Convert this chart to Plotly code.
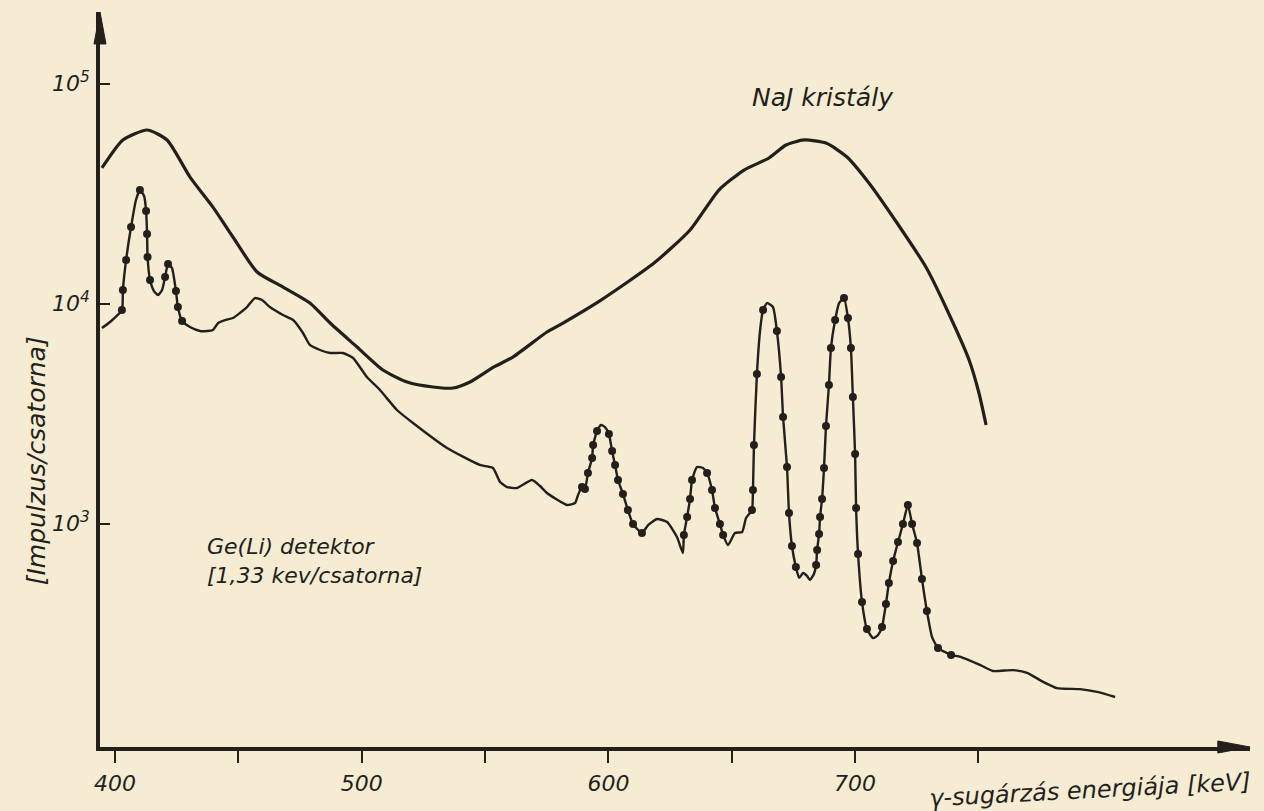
import plotly.graph_objects as go

# ---- data ----
# NaJ crystal spectrum (smooth upper curve)
naj_kev = [394.7, 403.2, 413.0, 421.1, 430.4, 439.7, 447.8, 457.6, 468.1, 479.0,
           487.2, 498.1, 508.6, 518.4, 528.9, 537.0, 543.9, 553.6, 561.3, 575.1,
           581.6, 597.0, 618.5, 633.1, 644.8, 655.0, 665.1, 672.0, 679.3, 688.2,
           696.7, 705.6, 717.0, 728.7, 737.3, 746.2, 750.2, 753.1]
naj_counts = [41400, 55500, 61600, 55500, 37650, 27500, 20100, 13940, 11900, 10070,
              8170, 6357, 4995, 4407, 4182, 4139, 4407, 5157, 5724, 7436,
              8170, 10390, 15310, 21630, 32870, 40520, 45950, 52650, 55500, 53760,
              46440, 35380, 23270, 14680, 9363, 5548, 3928, 2809]

# Ge(Li) detector spectrum (lower curve)
ge_kev = [394.7, 398.0, 402.8, 403.2, 404.5, 406.5, 408.5, 410.1, 411.8, 412.6,
          413.0, 413.2, 414.2, 415.8, 417.4, 419.1, 420.3, 421.5, 423.1, 424.7,
          425.5, 427.2, 430.4, 434.5, 437.3, 439.7, 441.8, 444.6, 447.8, 453.5,
          456.7, 459.6, 462.8, 468.1, 472.2, 476.2, 479.0, 483.1, 487.2, 492.4,
          496.5, 502.1, 507.4, 514.3, 520.8, 534.6, 547.9, 553.2, 556.1, 558.9,
          563.0, 569.0, 572.3, 575.1, 583.2, 586.5, 587.7, 589.3, 590.5, 591.7,
          593.4, 593.8, 595.4, 597.0, 598.6, 600.2, 601.5, 602.7, 603.9, 605.9,
          607.9, 610.0, 613.6, 616.1, 619.7, 623.8, 627.8, 630.2, 630.6, 631.9,
          633.1, 633.9, 635.9, 638.3, 640.0, 642.0, 643.2, 645.2, 646.5, 648.5,
          651.3, 654.2, 655.8, 658.2, 658.6, 659.0, 660.2, 661.5, 662.7, 664.3,
          666.7, 668.3, 670.0, 670.8, 672.4, 673.2, 674.4, 676.0, 677.3, 678.9,
          680.5, 681.7, 683.3, 684.2, 684.6, 685.4, 685.8, 686.6, 687.4, 688.2,
          689.4, 690.2, 691.9, 693.5, 695.5, 697.1, 698.3, 699.1, 700.0, 700.4,
          701.2, 702.8, 704.8, 707.3, 709.3, 710.9, 712.5, 713.7, 715.4, 717.4,
          719.4, 721.4, 723.1, 725.1, 727.1, 729.1, 731.2, 733.6, 736.4, 738.9,
          742.7, 750.6, 755.9, 764.0, 769.7, 776.2, 781.8, 791.2, 798.1, 805.4]
ge_counts = [7750, 8260, 9360, 11540, 15800, 22310, 29600, 32870, 30870, 26390,
             20740, 16310, 12810, 11420, 10950, 11540, 13230, 15150, 14530, 11420,
             9660, 8345, 7837, 7515, 7515, 7594, 8170, 8431, 8610, 9660,
             10610, 10390, 9660, 8883, 8431, 7360, 6494, 6160, 5969, 5969,
             5665, 4644, 4052, 3287, 2869, 2209, 1849, 1792, 1547, 1468,
             1453, 1580, 1484, 1379, 1216, 1242, 1351, 1468, 1438, 1700,
             1989, 2279, 2639, 2809, 2751, 2557, 2141, 1849, 1580, 1365,
             1154, 997, 907, 986, 1050, 1018, 870, 736, 888, 1073,
             1295, 1580, 1810, 1792, 1700, 1423, 1179, 997, 888, 800,
             907, 917, 1061, 1154, 1423, 2279, 4792, 7594, 9363, 10070,
             9660, 7515, 4644, 3055, 1810, 1118, 792, 636, 567, 597,
             579, 555, 591, 649, 760, 898, 1073, 1295, 1792, 2781,
             4271, 6288, 8431, 10070, 10610, 8610, 6288, 3765, 2074, 1179,
             728, 441, 332, 302, 312, 339, 432, 538, 677, 826,
             997, 1216, 997, 817, 561, 401, 305, 272, 261, 253,
             248, 228, 214, 216, 210, 191, 179, 177, 172, 163]
# indices of the Ge(Li) points drawn as measured dots
ge_dot_index = [2, 3, 4, 5, 7, 9, 10, 11, 12, 16, 17, 19, 20, 21,
                57, 58, 59, 60, 61, 62,
                65, 66, 67, 68, 69, 70, 71, 72,
                78, 79, 80, 81,
                84, 85, 86, 87, 88,
                93, 94, 95, 96, 98,
                101, 102, 103, 104, 105, 106, 107,
                113, 114, 115, 116, 117, 118, 119, 120, 121, 122,
                124, 125, 126, 127, 128, 129, 130, 131, 132,
                135, 136, 137, 138, 139, 140, 141, 142, 143, 144, 145,
                147, 149]

x_major_ticks = [400, 500, 600, 700]
x_major_text = ["400", "500", "600", "700"]
x_minor_ticks = [450, 550, 650, 750]
y_tick_vals = [1e3, 1e4, 1e5]
y_tick_text = ["10<sup>3</sup>", "10<sup>4</sup>", "10<sup>5</sup>"]

# ---- styling ----
INK = "#231f1b"
BG = "#f5ecd3"
FONT = "DejaVu Sans"

fig = go.Figure()
fig.add_trace(go.Scatter(
    x=naj_kev, y=naj_counts, mode="lines",
    line=dict(color=INK, width=3.2, shape="spline", smoothing=0.6),
    hoverinfo="skip", showlegend=False))
fig.add_trace(go.Scatter(
    x=ge_kev, y=ge_counts, mode="lines",
    line=dict(color=INK, width=2.4, shape="spline", smoothing=0.5),
    hoverinfo="skip", showlegend=False))
fig.add_trace(go.Scatter(
    x=[ge_kev[i] for i in ge_dot_index],
    y=[ge_counts[i] for i in ge_dot_index],
    mode="markers", marker=dict(color=INK, size=8),
    hoverinfo="skip", showlegend=False))

tick_font = dict(family=FONT, size=22, color=INK, style="italic")

fig.update_layout(
    width=1264, height=811,
    margin=dict(l=100, r=14, t=12, b=64, autoexpand=False),
    paper_bgcolor=BG, plot_bgcolor=BG,
    showlegend=False,
    xaxis=dict(range=[393.92, 860.07], showgrid=False, zeroline=False,
               showline=True, linewidth=3.5, linecolor=INK,
               ticks="outside", ticklen=12, tickwidth=2, tickcolor=INK,
               tickvals=x_major_ticks, ticktext=x_major_text, tickfont=tick_font,
               ticklabelstandoff=2,
               minor=dict(tickvals=x_minor_ticks, ticks="outside", ticklen=12,
                          tickwidth=2, tickcolor=INK, showgrid=False)),
    yaxis=dict(type="log", range=[1.985, 5.326], showgrid=False, zeroline=False,
               showline=True, linewidth=3.5, linecolor=INK,
               ticks="inside", ticklen=10, tickwidth=2, tickcolor=INK,
               tickvals=y_tick_vals, ticktext=y_tick_text, tickfont=tick_font,
               ticklabelstandoff=2),
)

# axis arrowheads (decorative, paper coordinates)
fig.add_shape(type="path", xref="paper", yref="paper",
              path="M 1.0,0 L 0.972,0.0082 L 0.972,-0.0082 Z",
              fillcolor=INK, line=dict(color=INK, width=1))
fig.add_shape(type="path", xref="paper", yref="paper",
              path="M 0,1.0 L 0.0052,0.9565 L -0.0052,0.9565 Z",
              fillcolor=INK, line=dict(color=INK, width=1))

label_font = dict(family=FONT, size=25, color=INK, style="italic")
fig.add_annotation(x=0.6287, y=0.883, xref="paper", yref="paper",
                   xanchor="center", yanchor="middle",
                   text="NaJ kristály", showarrow=False, font=label_font)
fig.add_annotation(x=0.0913, y=0.253, xref="paper", yref="paper",
                   xanchor="left", yanchor="middle", align="left",
                   text="Ge(Li) detektor<br>[1,33 kev/csatorna]",
                   showarrow=False,
                   font=dict(family=FONT, size=22, color=INK, style="italic"))
fig.add_annotation(x=-0.0557, y=0.39, xref="paper", yref="paper",
                   xanchor="center", yanchor="middle",
                   text="[Impulzus/csatorna]", textangle=-90,
                   showarrow=False,
                   font=dict(family=FONT, size=25, color=INK, style="italic"))
fig.add_annotation(x=0.861, y=-0.0585, xref="paper", yref="paper",
                   xanchor="center", yanchor="middle",
                   text="γ-sugárzás energiája [keV]", textangle=-3,
                   showarrow=False,
                   font=dict(family=FONT, size=24, color=INK, style="italic"))

fig.write_html(
    "out.html",
    config={"displayModeBar": False},
    post_script="document.body.style.margin='0';"
                "document.body.style.background='#f5ecd3';")
